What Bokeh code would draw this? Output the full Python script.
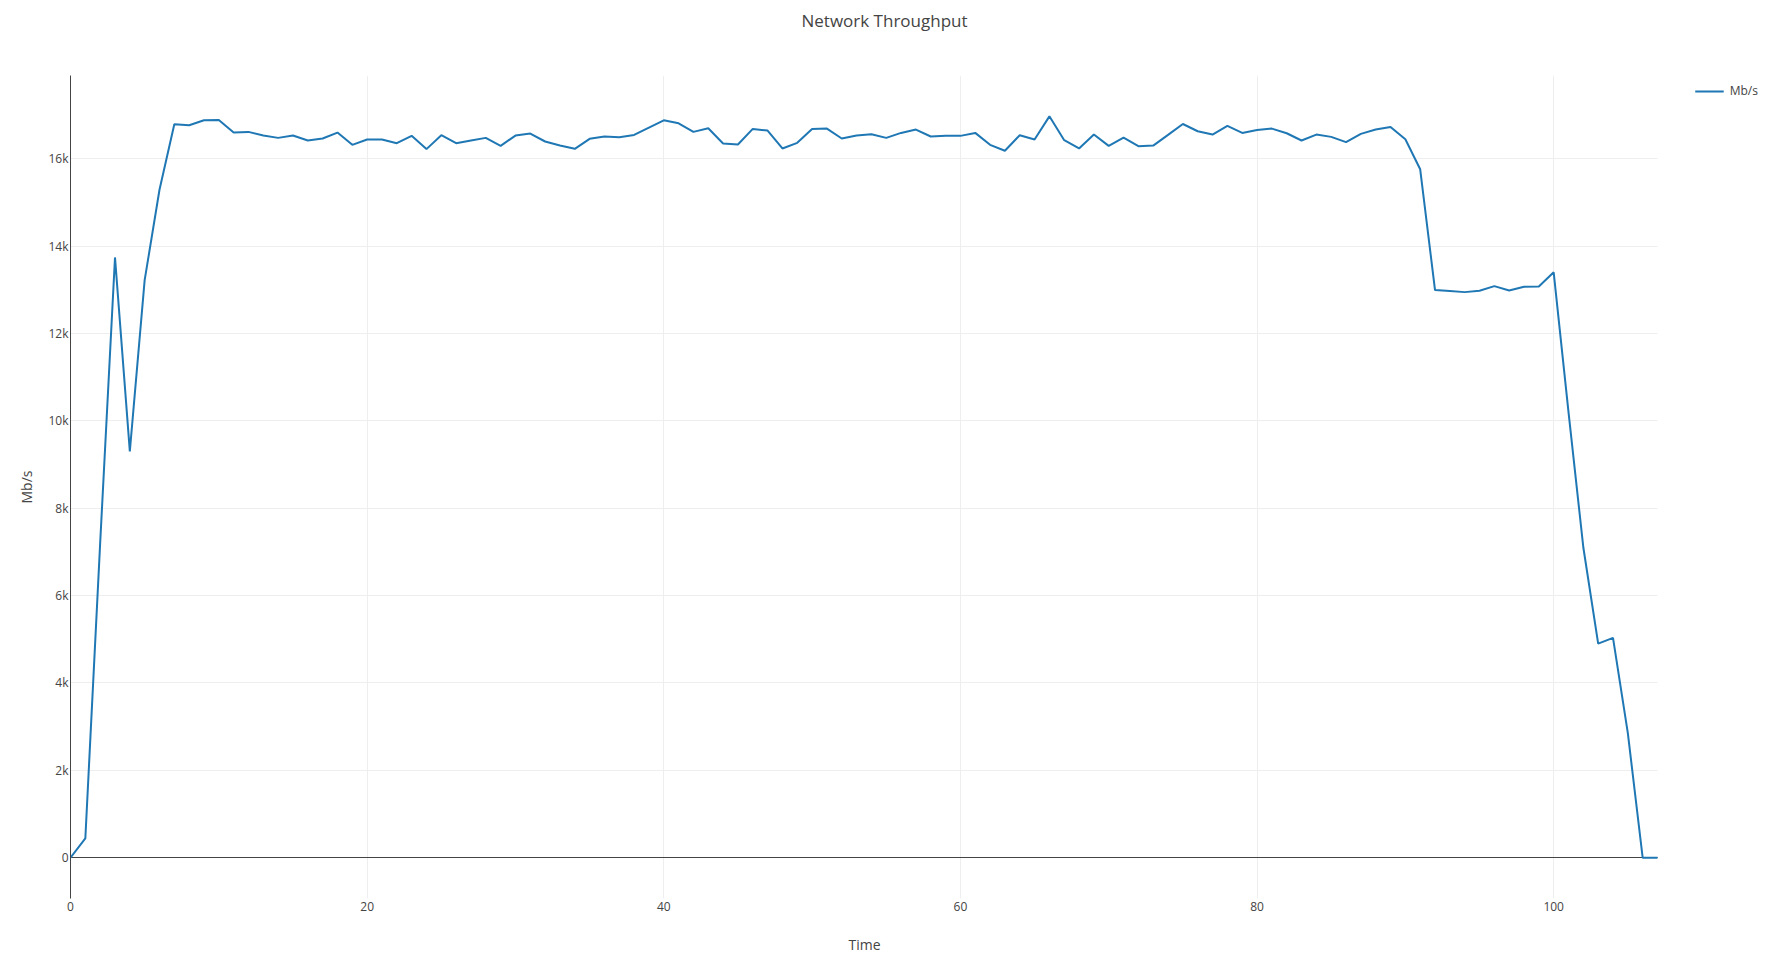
from bokeh.plotting import figure
from bokeh.models import Range1d, FixedTicker, Legend, LegendItem, Grid, Title
from bokeh.embed import file_html
from bokeh.resources import INLINE

# ---- data ----
time = [0, 1, 2, 3, 4, 5, 6, 7, 8, 9, 10, 11, 12, 13, 14, 15, 16, 17, 18, 19,
        20, 21, 22, 23, 24, 25, 26, 27, 28, 29, 30, 31, 32, 33, 34, 35, 36, 37, 38, 39,
        40, 41, 42, 43, 44, 45, 46, 47, 48, 49, 50, 51, 52, 53, 54, 55, 56, 57, 58, 59,
        60, 61, 62, 63, 64, 65, 66, 67, 68, 69, 70, 71, 72, 73, 74, 75, 76, 77, 78, 79,
        80, 81, 82, 83, 84, 85, 86, 87, 88, 89, 90, 91, 92, 93, 94, 95, 96, 97, 98, 99,
        100, 101, 102, 103, 104, 105, 106, 107]
mbps = [0, 440, 7200, 13740, 9300, 13220, 15290, 16790, 16765, 16880,
        16886, 16598, 16614, 16530, 16477, 16530, 16417, 16462, 16598, 16318,
        16439, 16439, 16356, 16523, 16220, 16538, 16356, 16417, 16477, 16295,
        16530, 16576, 16394, 16303, 16227, 16455, 16508, 16492, 16545, 16712,
        16879, 16811, 16614, 16697, 16348, 16326, 16682, 16644, 16235, 16364,
        16682, 16689, 16462, 16530, 16561, 16477, 16591, 16667, 16508, 16523,
        16523, 16591, 16318, 16182, 16538, 16439, 16970, 16424, 16235, 16553,
        16295, 16485, 16288, 16300, 16545, 16795, 16629, 16553, 16750, 16591,
        16659, 16689, 16583, 16417, 16553, 16500, 16379, 16568, 16667, 16727,
        16447, 15758, 12992, 12969, 12946, 12976, 13083, 12984, 13068, 13076,
        13400, 10200, 7100, 4900, 5030, 2850, 0, 0]

x_ticks = [0, 20, 40, 60, 80, 100]
x_tick_labels = ["0", "20", "40", "60", "80", "100"]
y_ticks = [0, 2000, 4000, 6000, 8000, 10000, 12000, 14000, 16000]
y_tick_labels = ["0", "2k", "4k", "6k", "8k", "10k", "12k", "14k", "16k"]

title_text = "Network Throughput"
x_title = "Time"
y_title = "Mb/s"
series_name = "Mb/s"

FONT = "Open Sans"
TXT = "#444444"

# layout (pixels)
W, H = 1765, 973
PLOT_LEFT, PLOT_RIGHT = 70, 1657      # visible plotting area
X_MIN, X_MAX = min(time), max(time)
Y_MIN, Y_MAX = -935, 17905
# the frame runs to the right edge so that the legend can sit right of the data area
x_end = X_MIN + (X_MAX - X_MIN) * (W - PLOT_LEFT) / (PLOT_RIGHT - PLOT_LEFT)

p = figure(width=W, height=H, output_backend="svg", toolbar_location=None,
           x_range=Range1d(X_MIN, x_end), y_range=Range1d(Y_MIN, Y_MAX),
           min_border_left=PLOT_LEFT, min_border_right=0, min_border_top=75,
           min_border_bottom=75, title=None)
p.outline_line_color = None
p.background_fill_color = "white"
p.border_fill_color = "white"

# title: a spacer title next to the frame, then the visible title above it
spacer_title = Title(text=" ", text_font_size="1px", standoff=41)
p.add_layout(spacer_title, "above")
main_title = Title(text=title_text, align="left", offset=731, standoff=0,
                   text_font=FONT, text_font_size="17px",
                   text_font_style="normal", text_color=TXT)
p.add_layout(main_title, "above")

# axes
xa = p.xaxis[0]
xa.bounds = (X_MIN, X_MAX)
xa.ticker = FixedTicker(ticks=x_ticks)
xa.major_label_overrides = {t: l for t, l in zip(x_ticks, x_tick_labels)}
xa.axis_line_color = None
xa.major_tick_line_color = None
xa.minor_tick_line_color = None
xa.major_tick_out = 0
xa.major_tick_in = 0
xa.minor_tick_out = 0
xa.minor_tick_in = 0
xa.major_label_text_font = FONT
xa.major_label_text_font_size = "12px"
xa.major_label_text_color = TXT
xa.major_label_standoff = 3

# x axis title, centred under the data area
x_axis_title = Title(text=x_title, align="left", offset=778, standoff=39,
                     text_font=FONT, text_font_size="14px",
                     text_font_style="normal", text_color=TXT)
p.add_layout(x_axis_title, "below")

ya = p.yaxis[0]
ya.ticker = FixedTicker(ticks=y_ticks)
ya.major_label_overrides = {t: l for t, l in zip(y_ticks, y_tick_labels)}
ya.axis_line_color = TXT
ya.axis_line_width = 1
ya.major_tick_line_color = None
ya.minor_tick_line_color = None
ya.major_tick_out = 0
ya.major_tick_in = 0
ya.minor_tick_out = 0
ya.minor_tick_in = 0
ya.major_label_text_font = FONT
ya.major_label_text_font_size = "12px"
ya.major_label_text_color = TXT
ya.major_label_standoff = 2
ya.axis_label = y_title
ya.axis_label_text_font = FONT
ya.axis_label_text_font_size = "14px"
ya.axis_label_text_font_style = "normal"
ya.axis_label_text_color = TXT
ya.axis_label_standoff = 9

# grids
p.xgrid.grid_line_color = "#eeeeee"
p.xgrid.ticker = FixedTicker(ticks=x_ticks)
p.ygrid.grid_line_color = "#eeeeee"
p.ygrid.ticker = FixedTicker(ticks=y_ticks)
p.ygrid.cross_bounds = (X_MIN, X_MAX)

# zero line
zero_line = Grid(dimension=1, ticker=FixedTicker(ticks=[0]),
                 grid_line_color=TXT, grid_line_width=1,
                 cross_bounds=(X_MIN, X_MAX))
p.add_layout(zero_line)

r = p.line(time, mbps, line_color="#1f77b4", line_width=2)

legend = Legend(items=[LegendItem(label=series_name, renderers=[r])],
                location="top_right")
legend.background_fill_alpha = 0
legend.border_line_color = None
legend.padding = 0
legend.margin = 7
legend.spacing = 0
legend.glyph_width = 29
legend.glyph_height = 12
legend.label_height = 12
legend.label_standoff = 6
legend.label_text_font = FONT
legend.label_text_font_size = "12px"
legend.label_text_color = TXT
p.add_layout(legend, "center")

open("out.html", "w").write(file_html(p, INLINE))
